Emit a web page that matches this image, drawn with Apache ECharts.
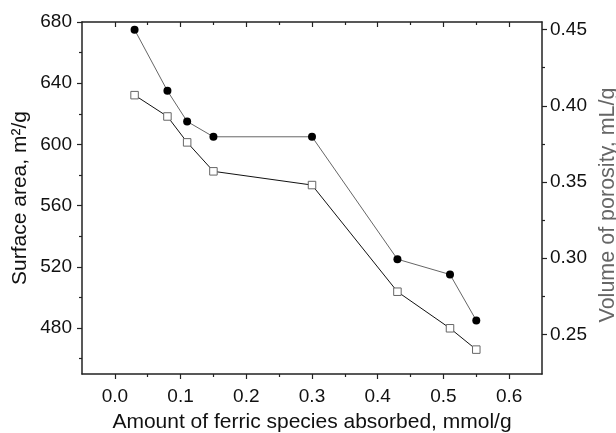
<!DOCTYPE html>
<html>
<head>
<meta charset="utf-8">
<script src="https://cdn.jsdelivr.net/npm/echarts@6/dist/echarts.min.js"></script>
<style>
  html, body { margin: 0; padding: 0; background: #fff; }
  #chart { width: 616px; height: 433px; }
</style>
</head>
<body>
<div id="chart"></div>
<script>
// data
const xValues = [0.03, 0.08, 0.11, 0.15, 0.30, 0.43, 0.51, 0.55]
const surfaceArea = [675, 635, 615, 605, 605, 525, 515, 485]
const porosity = [0.407, 0.393, 0.376, 0.357, 0.348, 0.278, 0.254, 0.240]

const xLabels = [0, 0.1, 0.2, 0.3, 0.4, 0.5, 0.6]
const xMinor = [0.05, 0.15, 0.25, 0.35, 0.45, 0.55]
const leftLabels = [480, 520, 560, 600, 640, 680]
const leftMinor = [460, 500, 540, 580, 620, 660]
const rightLabels = [0.25, 0.30, 0.35, 0.40, 0.45]
const rightMinor = [0.275, 0.325, 0.375, 0.425]

const font = 'Liberation Sans, Arial, sans-serif'
const axisColor = '#222'

function pair(xs, ys) {
  return xs.map((x, i) => [x, ys[i]])
}

// one axis with labels + major ticks, a twin with only the short minor ticks
function xAx(position, values, len, inside, showLine, labels) {
  return {
    type: 'value',
    position: position,
    min: -0.05,
    max: 0.65,
    nameMoveOverlap: false,
    axisLine: { show: showLine, onZero: false, lineStyle: { color: axisColor, width: 1.5 } },
    axisTick: { show: true, inside: inside, length: len, customValues: values, lineStyle: { color: axisColor, width: 1.2 } },
    axisLabel: labels ? {
      show: true,
      customValues: labels,
      margin: 13,
      color: '#111',
      fontFamily: font,
      fontSize: 19,
      formatter: v => v.toFixed(1)
    } : { show: false },
    splitLine: { show: false }
  }
}

function yAx(position, min, max, values, len, showLine, labels, digits) {
  return {
    type: 'value',
    position: position,
    min: min,
    max: max,
    nameMoveOverlap: false,
    axisLine: { show: showLine, onZero: false, lineStyle: { color: axisColor, width: 1.5 } },
    axisTick: { show: true, inside: false, length: len, customValues: values, lineStyle: { color: axisColor, width: 1.2 } },
    axisLabel: labels ? {
      show: true,
      customValues: labels,
      margin: position === 'left' ? 10 : 8,
      color: '#111',
      fontFamily: font,
      fontSize: 19,
      formatter: v => v.toFixed(digits)
    } : { show: false },
    splitLine: { show: false }
  }
}

const chart = echarts.init(document.getElementById('chart'), null, { renderer: 'canvas' })

const xAxes = [
  xAx('bottom', xLabels, 5, false, true, xLabels),
  xAx('bottom', xMinor, 3, false, false, null),
  xAx('top', xLabels, 5, true, true, null),
  xAx('top', xMinor, 3, true, false, null)
]
xAxes[0].name = 'Amount of ferric species absorbed, mmol/g'
xAxes[0].nameLocation = 'middle'
xAxes[0].nameGap = 38
xAxes[0].nameTextStyle = { color: '#111', fontFamily: font, fontSize: 21 }

const yAxes = [
  yAx('left', 450, 680, leftLabels, 5, true, leftLabels, 0),
  yAx('left', 450, 680, leftMinor, 3, false, null, 0),
  yAx('right', 0.224, 0.455, rightLabels, 5, true, rightLabels, 2),
  yAx('right', 0.224, 0.455, rightMinor, 3, false, null, 2)
]
yAxes[0].name = 'Surface area, m\u00b2/g'
yAxes[0].nameLocation = 'middle'
yAxes[0].nameGap = 51
yAxes[0].nameTextStyle = { color: '#111', fontFamily: font, fontSize: 21 }
yAxes[2].name = 'Volume of porosity, mL/g'
yAxes[2].nameLocation = 'middle'
yAxes[2].nameGap = 55
yAxes[2].nameTextStyle = { color: '#666', fontFamily: font, fontSize: 21.5, padding: [0, 14, 0, 0] }

chart.setOption({
  animation: false,
  backgroundColor: '#fff',
  grid: {
    left: 82,
    right: 74,
    top: 22,
    bottom: 59,
    containLabel: false,
    outerBoundsMode: 'none'
  },
  xAxis: xAxes,
  yAxis: yAxes,
  series: [
    {
      name: 'Surface area',
      type: 'line',
      xAxisIndex: 0,
      yAxisIndex: 0,
      symbol: 'circle',
      symbolSize: 8,
      lineStyle: { color: '#666', width: 1 },
      itemStyle: { color: '#000', borderColor: '#000', borderWidth: 0 },
      data: pair(xValues, surfaceArea)
    },
    {
      name: 'Volume of porosity',
      type: 'line',
      xAxisIndex: 0,
      yAxisIndex: 2,
      symbol: 'rect',
      symbolSize: 7.5,
      lineStyle: { color: '#111', width: 1 },
      itemStyle: { color: '#fff', borderColor: '#666', borderWidth: 1 },
      data: pair(xValues, porosity)
    }
  ]
})
</script>
</body>
</html>
